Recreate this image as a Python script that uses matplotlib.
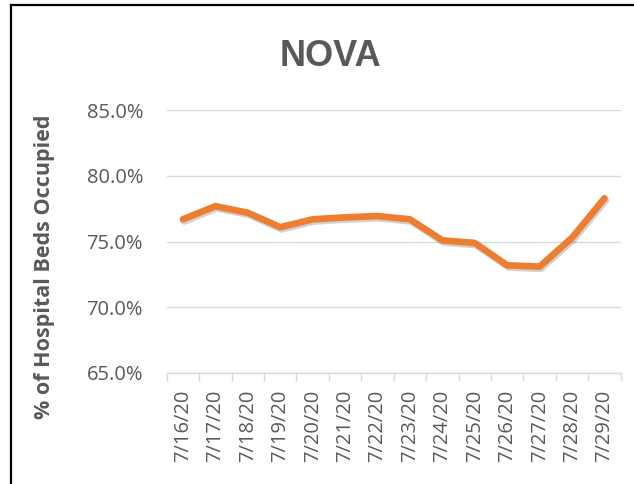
import matplotlib
matplotlib.use("Agg")
import matplotlib.pyplot as plt
from matplotlib.lines import Line2D
from matplotlib.ticker import FixedLocator, FuncFormatter
import matplotlib.patheffects as pe

dates = ["7/16/20", "7/17/20", "7/18/20", "7/19/20", "7/20/20", "7/21/20", "7/22/20",
         "7/23/20", "7/24/20", "7/25/20", "7/26/20", "7/27/20", "7/28/20", "7/29/20"]
occupied = [76.7, 77.7, 77.2, 76.1, 76.7, 76.85, 76.95, 76.7, 75.1, 74.9, 73.2, 73.1, 75.3, 78.3]
y_ticks = [65, 70, 75, 80, 85]

text_color = "#595959"
grid_color = "#D9D9D9"
line_color = "#ED7D31"

plt.rcParams['font.family'] = ['Open Sans', 'DejaVu Sans']

fig = plt.figure(figsize=(6.34, 4.84), dpi=100)
ax = fig.add_axes([166.7/634, 1-373/484, (620.7-166.7)/634, (373-110.3)/484])

x = list(range(len(dates)))
ax.plot(x, occupied, color=line_color, lw=4.8, solid_capstyle='round', solid_joinstyle='round',
        path_effects=[pe.SimpleLineShadow(offset=(1.0, -1.6), shadow_color='black', alpha=0.18),
                      pe.Normal()], zorder=3)

ax.set_xlim(-0.5, len(dates) - 0.5)
ax.set_ylim(65, 85)
ax.set_yticks(y_ticks)
ax.yaxis.set_major_formatter(FuncFormatter(lambda v, p: f"{v:.1f}%"))
ax.grid(axis='y', color=grid_color, lw=1.0)
ax.set_axisbelow(True)

ax.set_xticks(x)
ax.set_xticklabels(dates, rotation=90, color=text_color, fontsize=14.5)
ax.xaxis.set_minor_locator(FixedLocator([i - 0.5 for i in range(len(dates) + 1)]))
ax.tick_params(axis='x', which='major', length=0, pad=12)
ax.tick_params(axis='x', which='minor', length=5.5, width=1.0, color=grid_color)
ax.tick_params(axis='y', length=0, pad=17, labelcolor=text_color, labelsize=14.5)

for s in ['top', 'right', 'left']:
    ax.spines[s].set_visible(False)
ax.spines['bottom'].set_color(grid_color)
ax.spines['bottom'].set_linewidth(1.0)

fig.text(331/634, 1-66/484, "NOVA", ha='center', va='baseline', fontsize=26,
         fontweight='bold', color=text_color, family=['Liberation Sans', 'DejaVu Sans'])
fig.text(45/634, 1-267/484, "% of Hospital Beds Occupied", rotation=90, ha='center', va='center',
         fontsize=15.5, fontweight='bold', color=text_color)

# chart border (left and top visible)
fig.add_artist(Line2D([10.5/634, 10.5/634], [0, 1-4.5/484], transform=fig.transFigure,
                      color='black', lw=1.6))
fig.add_artist(Line2D([10.5/634, 1], [1-5/484, 1-5/484], transform=fig.transFigure,
                      color='black', lw=1.6))

fig.savefig("out.png", dpi=100)
